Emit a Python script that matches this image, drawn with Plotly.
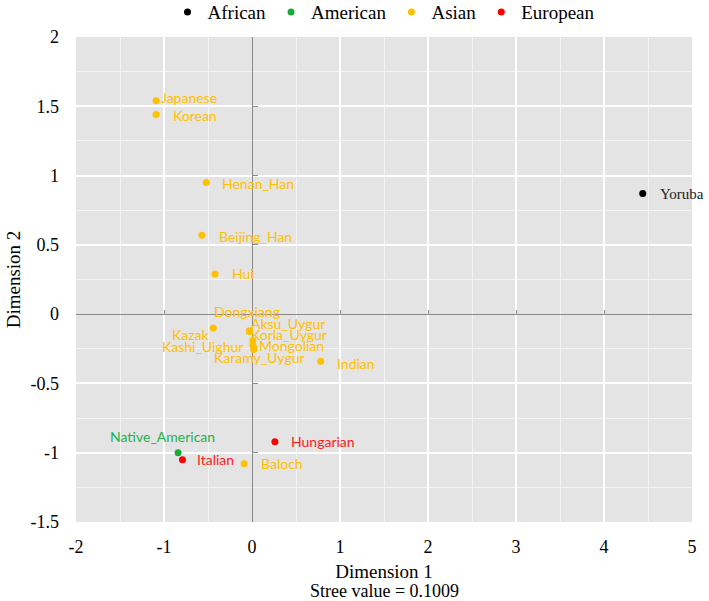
import plotly.graph_objects as go

# ---- data ----
names = ["Japanese", "Korean", "Henan_Han", "Beijing_Han", "Hui", "Dongxiang", "Kazak",
         "Aksu_Uygur", "Korla_Uygur", "Kashi_Uighur", "Mongolian", "Karamy_Uygur", "Indian",
         "Baloch", "Native_American", "Italian", "Hungarian", "Yoruba"]
dim1 = [-1.09, -1.09, -0.52, -0.57, -0.42, -0.03, -0.44,
        -0.03, 0.01, 0.01, 0.02, 0.02, 0.78,
        -0.09, -0.84, -0.79, 0.26, 4.44]
dim2 = [1.54, 1.44, 0.95, 0.57, 0.29, -0.12, -0.10,
        -0.125, -0.19, -0.22, -0.24, -0.255, -0.34,
        -1.08, -1.00, -1.05, -0.92, 0.87]
groups = ["Asian"] * 14 + ["American", "European", "European", "African"]
group_order = ["African", "American", "Asian", "European"]
x_ticks = [-2, -1, 0, 1, 2, 3, 4, 5]
y_ticks = [-1.5, -1, -0.5, 0, 0.5, 1, 1.5, 2]
x_tick_text = ["-2", "-1", "0", "1", "2", "3", "4", "5"]
y_tick_text = ["-1.5", "-1", "-0.5", "0", "0.5", "1", "1.5", "2"]

group_colors = {"African": "#000000", "American": "#1aa83a", "Asian": "#ffc000", "European": "#ff0000"}
label_colors = {"African": "#222222", "American": "#22b14c", "Asian": "#ffc000", "European": "#ff1a1a"}

# label placement (style): xanchor, xshift, yshift in px
label_pos = {
    "Japanese": ("left", 3, 3), "Korean": ("left", 15, -1), "Henan_Han": ("left", 14, -1),
    "Beijing_Han": ("left", 15, -1), "Hui": ("left", 15, 0), "Dongxiang": ("center", -2, 19),
    "Kazak": ("right", -2, -6), "Aksu_Uygur": ("left", 0, 8), "Korla_Uygur": ("left", -4, 6),
    "Kashi_Uighur": ("right", -8, -2), "Mongolian": ("left", 3, 2), "Karamy_Uygur": ("center", 6, -8),
    "Indian": ("left", 14, -2), "Baloch": ("left", 15, 0), "Native_American": ("center", -16, 16),
    "Italian": ("left", 13, 0), "Hungarian": ("left", 14, 0), "Yoruba": ("left", 15, 0),
}

serif = "Liberation Serif, Times New Roman, serif"
sans = "Lato, Noto Sans, sans-serif"

fig = go.Figure()
for g in group_order:
    xs = [x for x, gg in zip(dim1, groups) if gg == g]
    ys = [y for y, gg in zip(dim2, groups) if gg == g]
    fig.add_trace(go.Scatter(x=xs, y=ys, mode="markers", name=g,
                             marker=dict(color=group_colors[g], size=7)))

annotations = []
for n, x, y, g in zip(names, dim1, dim2, groups):
    xa, xs_, ys_ = label_pos[n]
    if g == "African":
        font = dict(family=serif, size=15, color=label_colors[g])
    else:
        font = dict(family=sans, size=14, color=label_colors[g])
    annotations.append(dict(x=x, y=y, xref="x", yref="y", text=n, showarrow=False,
                            xanchor=xa, yanchor="middle", xshift=xs_, yshift=ys_, font=font))

annotations.append(dict(x=0.5, y=-0.142, xref="paper", yref="paper", text="Stree value = 0.1009",
                        showarrow=False, xanchor="center", yanchor="middle",
                        font=dict(family=serif, size=18, color="#000000")))

fig.update_layout(
    width=709, height=601,
    paper_bgcolor="white", plot_bgcolor="#e4e4e4",
    margin=dict(l=76, r=17, t=37, b=79, autoexpand=False),
    showlegend=True,
    legend=dict(orientation="h", x=0.5, xanchor="center", y=1.012, yanchor="bottom",
                font=dict(family=serif, size=19, color="#000000"),
                itemwidth=30, tracegroupgap=0, bgcolor="rgba(0,0,0,0)"),
    annotations=annotations,
    xaxis=dict(range=[-2, 5], tickvals=x_ticks, ticktext=x_tick_text, ticks="", showline=False,
               showgrid=True, gridcolor="white", gridwidth=2,
               minor=dict(dtick=0.5, tick0=0, showgrid=True, gridcolor="#f4f4f4", gridwidth=1),
               zeroline=True, zerolinecolor="#8a8a8a", zerolinewidth=1.2,
               tickfont=dict(family=serif, size=18, color="#000000"), ticklabelstandoff=12,
               title=dict(text="Dimension 1", font=dict(family=serif, size=19, color="#000000"), standoff=8),
               fixedrange=True),
    yaxis=dict(range=[-1.5, 2], tickvals=y_ticks, ticktext=y_tick_text, ticks="", showline=False,
               showgrid=True, gridcolor="white", gridwidth=2,
               minor=dict(dtick=0.25, tick0=0, showgrid=True, gridcolor="#f4f4f4", gridwidth=1),
               zeroline=True, zerolinecolor="#8a8a8a", zerolinewidth=1.2,
               tickfont=dict(family=serif, size=18, color="#000000"), ticklabelstandoff=16,
               title=dict(text="Dimension 2", font=dict(family=serif, size=19, color="#000000"), standoff=4),
               fixedrange=True),
    xaxis2=dict(overlaying="x", matches="x", range=[-2, 5], anchor="free", position=1.5 / 3.5, side="bottom",
                tickvals=x_ticks, ticks="inside", ticklen=4, tickcolor="#8a8a8a",
                showticklabels=False, showgrid=False, zeroline=False, showline=False),
    yaxis2=dict(overlaying="y", matches="y", range=[-1.5, 2], anchor="free", position=2 / 7, side="left",
                tickvals=y_ticks, ticks="inside", ticklen=5, tickcolor="#8a8a8a",
                showticklabels=False, showgrid=False, zeroline=False, showline=False),
)
fig.add_trace(go.Scatter(x=[None], y=[None], xaxis="x2", yaxis="y2", showlegend=False, hoverinfo="skip"))

fig.write_html("out.html", config={"displayModeBar": False},
               post_script="document.body.style.margin='0';document.body.style.overflow='hidden';")
